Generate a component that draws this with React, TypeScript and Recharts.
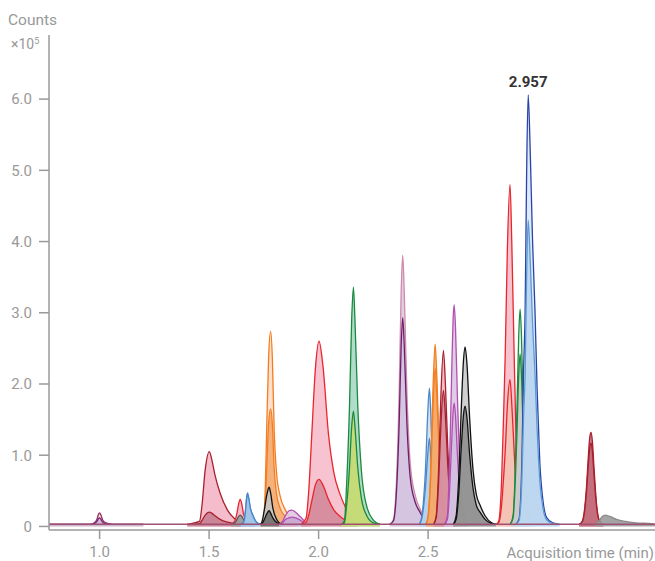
import { ComposedChart, Area, Line, XAxis, YAxis, ReferenceDot } from "recharts";

// [time (min), counts x10^5]; A = quantifier, B = qualifier
const baseline = [[0.77, 0.03], [3.536, 0.03]];

const rt100A = [[0.77, 0.03], [0.958, 0.03], [0.976, 0.05], [0.988, 0.1], [0.995, 0.17], [1.0, 0.19], [1.006, 0.16], [1.014, 0.09], [1.028, 0.05], [1.042, 0.04], [1.06, 0.03], [1.2, 0.03]];
const rt100B = [[0.77, 0.03], [0.958, 0.03], [0.976, 0.04], [0.988, 0.07], [0.995, 0.11], [1.0, 0.12], [1.006, 0.1], [1.014, 0.06], [1.028, 0.04], [1.042, 0.035], [1.06, 0.03], [1.2, 0.03]];

const rt150A = [[1.4, 0.03], [1.456, 0.07], [1.467, 0.28], [1.482, 0.79], [1.501, 1.05], [1.515, 0.9], [1.527, 0.72], [1.55, 0.47], [1.584, 0.23], [1.619, 0.1], [1.664, 0.03]];
const rt150B = [[1.4, 0.03], [1.456, 0.04], [1.467, 0.08], [1.482, 0.16], [1.501, 0.2], [1.515, 0.18], [1.527, 0.15], [1.55, 0.1], [1.584, 0.06], [1.619, 0.04], [1.664, 0.03]];

const rt164A = [[1.6, 0.03], [1.618, 0.08], [1.628, 0.2], [1.635, 0.32], [1.642, 0.38], [1.649, 0.32], [1.657, 0.18], [1.67, 0.08], [1.69, 0.04], [1.71, 0.03]];
const rt164B = [[1.6, 0.03], [1.618, 0.05], [1.628, 0.1], [1.635, 0.14], [1.642, 0.16], [1.649, 0.14], [1.657, 0.1], [1.67, 0.06], [1.69, 0.04], [1.71, 0.03]];

const rt168A = [[1.645, 0.03], [1.658, 0.06], [1.664, 0.16], [1.668, 0.3], [1.672, 0.43], [1.676, 0.47], [1.681, 0.4], [1.688, 0.26], [1.698, 0.17], [1.71, 0.09], [1.725, 0.04], [1.74, 0.03]];
const rt168B = [[1.645, 0.03], [1.658, 0.06], [1.664, 0.15], [1.668, 0.28], [1.672, 0.4], [1.677, 0.44], [1.682, 0.38], [1.689, 0.25], [1.699, 0.16], [1.711, 0.08], [1.725, 0.04], [1.74, 0.03]];

const rt178A = [[1.735, 0.03], [1.748, 0.09], [1.757, 0.6], [1.763, 1.37], [1.772, 2.4], [1.781, 2.74], [1.789, 2.35], [1.797, 1.37], [1.808, 0.75], [1.825, 0.42], [1.845, 0.25], [1.87, 0.12], [1.9, 0.04]];
const rt178B = [[1.735, 0.03], [1.748, 0.06], [1.757, 0.36], [1.763, 0.82], [1.772, 1.45], [1.781, 1.65], [1.789, 1.42], [1.797, 0.82], [1.808, 0.45], [1.825, 0.25], [1.845, 0.15], [1.87, 0.08], [1.9, 0.03]];

const rt177A = [[1.735, 0.03], [1.742, 0.07], [1.751, 0.21], [1.764, 0.45], [1.774, 0.55], [1.782, 0.45], [1.791, 0.26], [1.81, 0.09], [1.83, 0.03]];
const rt177B = [[1.735, 0.03], [1.742, 0.04], [1.751, 0.09], [1.764, 0.18], [1.774, 0.22], [1.782, 0.18], [1.791, 0.12], [1.81, 0.05], [1.83, 0.03]];

const rt188A = [[1.82, 0.03], [1.835, 0.07], [1.85, 0.16], [1.865, 0.22], [1.878, 0.23], [1.895, 0.2], [1.915, 0.14], [1.935, 0.08], [1.96, 0.03]];
const rt188B = [[1.82, 0.03], [1.835, 0.05], [1.85, 0.1], [1.865, 0.12], [1.878, 0.13], [1.895, 0.12], [1.915, 0.09], [1.935, 0.05], [1.96, 0.03]];

const rt200A = [[1.92, 0.03], [1.943, 0.12], [1.955, 0.5], [1.969, 1.3], [1.985, 2.2], [2.002, 2.6], [2.02, 2.25], [2.045, 1.3], [2.07, 0.75], [2.098, 0.45], [2.121, 0.28], [2.15, 0.12], [2.18, 0.04]];
const rt200B = [[1.92, 0.03], [1.943, 0.06], [1.955, 0.16], [1.969, 0.36], [1.985, 0.58], [2.002, 0.66], [2.02, 0.58], [2.045, 0.38], [2.07, 0.23], [2.098, 0.14], [2.121, 0.09], [2.15, 0.05], [2.18, 0.03]];

const rt216A = [[2.105, 0.03], [2.118, 0.08], [2.128, 0.6], [2.141, 1.68], [2.151, 2.9], [2.159, 3.36], [2.166, 2.9], [2.179, 1.68], [2.195, 0.8], [2.22, 0.28], [2.25, 0.09], [2.28, 0.03]];
const rt216B = [[2.105, 0.03], [2.118, 0.05], [2.128, 0.3], [2.141, 0.82], [2.151, 1.4], [2.159, 1.62], [2.166, 1.4], [2.179, 0.82], [2.195, 0.4], [2.22, 0.15], [2.25, 0.05], [2.28, 0.03]];

const rt238A = [[2.325, 0.03], [2.342, 0.1], [2.355, 0.6], [2.368, 1.9], [2.377, 3.3], [2.384, 3.81], [2.391, 3.3], [2.403, 1.9], [2.418, 0.9], [2.44, 0.45], [2.463, 0.25], [2.49, 0.08], [2.52, 0.03]];
const rt238B = [[2.325, 0.03], [2.342, 0.08], [2.355, 0.46], [2.368, 1.46], [2.377, 2.54], [2.384, 2.93], [2.391, 2.54], [2.403, 1.46], [2.418, 0.7], [2.44, 0.35], [2.463, 0.2], [2.49, 0.07], [2.52, 0.03]];

const rt251A = [[2.46, 0.03], [2.472, 0.15], [2.48, 0.4], [2.488, 0.8], [2.497, 1.5], [2.506, 1.94], [2.512, 1.6], [2.52, 0.9], [2.53, 0.4], [2.545, 0.12], [2.56, 0.03]];
const rt251B = [[2.46, 0.03], [2.472, 0.12], [2.48, 0.3], [2.488, 0.55], [2.497, 0.95], [2.506, 1.24], [2.512, 1.0], [2.52, 0.6], [2.53, 0.25], [2.545, 0.08], [2.56, 0.03]];

const rt253A = [[2.49, 0.03], [2.5, 0.15], [2.512, 0.8], [2.522, 1.9], [2.532, 2.56], [2.54, 2.1], [2.55, 1.2], [2.562, 0.5], [2.578, 0.15], [2.595, 0.03]];
const rt253B = [[2.49, 0.03], [2.5, 0.13], [2.512, 0.7], [2.522, 1.65], [2.532, 2.22], [2.54, 1.82], [2.55, 1.05], [2.562, 0.43], [2.578, 0.13], [2.595, 0.03]];

const rt257A = [[2.525, 0.03], [2.537, 0.15], [2.548, 0.8], [2.558, 1.8], [2.57, 2.47], [2.579, 2.0], [2.59, 1.1], [2.602, 0.45], [2.618, 0.12], [2.635, 0.03]];
const rt257B = [[2.525, 0.03], [2.537, 0.12], [2.548, 0.62], [2.558, 1.4], [2.57, 1.91], [2.579, 1.55], [2.59, 0.85], [2.602, 0.35], [2.618, 0.1], [2.635, 0.03]];

const rt262A = [[2.575, 0.03], [2.588, 0.15], [2.598, 0.9], [2.608, 2.2], [2.614, 2.9], [2.619, 3.11], [2.625, 2.8], [2.634, 1.8], [2.645, 0.8], [2.66, 0.25], [2.68, 0.03]];
const rt262B = [[2.575, 0.03], [2.588, 0.1], [2.598, 0.5], [2.608, 1.22], [2.614, 1.6], [2.619, 1.73], [2.625, 1.56], [2.634, 1.0], [2.645, 0.45], [2.66, 0.15], [2.68, 0.03]];

const rt267A = [[2.615, 0.03], [2.628, 0.15], [2.64, 0.7], [2.652, 1.7], [2.662, 2.35], [2.669, 2.52], [2.677, 2.3], [2.69, 1.5], [2.705, 0.8], [2.72, 0.45], [2.737, 0.3], [2.76, 0.15], [2.79, 0.05], [2.81, 0.03]];
const rt267B = [[2.615, 0.03], [2.628, 0.1], [2.64, 0.47], [2.652, 1.14], [2.662, 1.58], [2.669, 1.69], [2.677, 1.54], [2.69, 1.0], [2.705, 0.54], [2.72, 0.3], [2.737, 0.2], [2.76, 0.1], [2.79, 0.04], [2.81, 0.03]];

const rt287A = [[2.81, 0.03], [2.822, 0.07], [2.835, 0.6], [2.845, 1.6], [2.852, 2.4], [2.862, 3.9], [2.874, 4.8], [2.882, 4.0], [2.893, 2.4], [2.902, 1.2], [2.912, 0.45], [2.925, 0.12], [2.945, 0.03]];
const rt287B = [[2.81, 0.03], [2.822, 0.05], [2.835, 0.28], [2.845, 0.7], [2.852, 1.05], [2.862, 1.7], [2.874, 2.06], [2.882, 1.72], [2.893, 1.05], [2.902, 0.52], [2.912, 0.2], [2.925, 0.06], [2.945, 0.03]];

const rt292A = [[2.875, 0.03], [2.888, 0.15], [2.898, 0.8], [2.906, 1.7], [2.914, 2.7], [2.92, 3.05], [2.926, 2.7], [2.934, 1.7], [2.944, 0.8], [2.958, 0.25], [2.975, 0.03]];
const rt292B = [[2.875, 0.03], [2.888, 0.12], [2.898, 0.63], [2.906, 1.35], [2.914, 2.15], [2.92, 2.42], [2.926, 2.15], [2.934, 1.35], [2.944, 0.63], [2.958, 0.2], [2.975, 0.03]];

const rt296A = [[2.9, 0.03], [2.915, 0.1], [2.928, 0.9], [2.936, 2.2], [2.943, 3.03], [2.95, 5.0], [2.957, 6.06], [2.966, 5.3], [2.977, 4.0], [2.988, 3.03], [2.998, 1.9], [3.01, 0.9], [3.025, 0.35], [3.042, 0.12], [3.07, 0.05], [3.1, 0.03]];
const rt296B = [[2.9, 0.03], [2.915, 0.08], [2.928, 0.64], [2.936, 1.56], [2.943, 2.15], [2.95, 3.55], [2.957, 4.3], [2.966, 3.76], [2.977, 2.84], [2.988, 2.15], [2.998, 1.35], [3.01, 0.64], [3.025, 0.25], [3.042, 0.09], [3.07, 0.04], [3.1, 0.03]];

const rt324A = [[3.19, 0.03], [3.205, 0.08], [3.222, 0.5], [3.232, 1.0], [3.238, 1.25], [3.244, 1.32], [3.25, 1.2], [3.258, 0.8], [3.268, 0.35], [3.28, 0.1], [3.3, 0.03]];
const rt324B = [[3.19, 0.03], [3.205, 0.07], [3.222, 0.44], [3.232, 0.88], [3.238, 1.1], [3.244, 1.17], [3.25, 1.06], [3.258, 0.7], [3.268, 0.31], [3.28, 0.09], [3.3, 0.03]];

const rt331A = [[3.26, 0.03], [3.28, 0.08], [3.295, 0.14], [3.308, 0.16], [3.33, 0.14], [3.36, 0.1], [3.4, 0.07], [3.45, 0.05], [3.52, 0.04], [3.536, 0.03]];

const xTicks = [1.0, 1.5, 2.0, 2.5];
const yTicks = [0, 1, 2, 3, 4, 5, 6];
const apex = { t: 2.957, v: 6.06, label: "2.957" };

const traces = [
  { data: rt100A, stroke: "#8e2a6c", fill: "#fbeeb6" },
  { data: rt100B, stroke: "#7b2a72", fill: "#c9b3d9" },
  { data: rt150A, stroke: "#a8202c", fill: "#f4b5c5" },
  { data: rt150B, stroke: "#a8202c", fill: "#c88092" },
  { data: rt164A, stroke: "#e8262b", fill: "#f4b5c5" },
  { data: rt164B, stroke: "#5a5a5a", fill: "#9a9a9a" },
  { data: rt168A, stroke: "#4a88c9", fill: "#bcd5ee" },
  { data: rt168B, stroke: "#4a88c9", fill: "#9fc3e8" },
  { data: rt178A, stroke: "#f47d20", fill: "#fcdcc8" },
  { data: rt178B, stroke: "#f47d20", fill: "#f4ac72" },
  { data: rt177A, stroke: "#111111", fill: "#c4c4c4" },
  { data: rt177B, stroke: "#111111", fill: "#707070" },
  { data: rt188A, stroke: "#b24fb0", fill: "#e0c8e4" },
  { data: rt188B, stroke: "#b24fb0", fill: "#c8a6d0" },
  { data: rt200A, stroke: "#e8262b", fill: "#f6bccb" },
  { data: rt200B, stroke: "#e8262b", fill: "#d38a9a" },
  { data: rt216A, stroke: "#1a8a3e", fill: "#a8d8c4" },
  { data: rt216B, stroke: "#1a8a3e", fill: "#c6da6e" },
  { data: rt238A, stroke: "#cf8aa8", fill: "#dccbe2" },
  { data: rt238B, stroke: "#6c1f6e", fill: "#d5c3e0" },
  { data: rt251A, stroke: "#4a88c9", fill: "#cfe0f2" },
  { data: rt251B, stroke: "#4a88c9", fill: "#b3cfec" },
  { data: rt253A, stroke: "#f47d20", fill: "#f6b583" },
  { data: rt253B, stroke: "#f47d20", fill: "#f3a86a" },
  { data: rt257A, stroke: "#a8202c", fill: "#f4b5c5" },
  { data: rt257B, stroke: "#a8202c", fill: "#d48c9c" },
  { data: rt262A, stroke: "#b24fb0", fill: "#dcc7e3" },
  { data: rt262B, stroke: "#b24fb0", fill: "#d2bfdf" },
  { data: rt267A, stroke: "#111111", fill: "#cacaca" },
  { data: rt267B, stroke: "#111111", fill: "#8e8e8e" },
  { data: rt287A, stroke: "#e8262b", fill: "#f6bccb" },
  { data: rt287B, stroke: "#e8262b", fill: "#f4c3b2" },
  { data: rt292A, stroke: "#1a8a3e", fill: "#eef6ee" },
  { data: rt292B, stroke: "#1a8a3e", fill: "#c6c6c6" },
  { data: rt296A, stroke: "#2a44a6", fill: "#dce8f7" },
  { data: rt296B, stroke: "#5b9bd5", fill: "#b9d5ee" },
  { data: rt324A, stroke: "#a8202c", fill: "#c97584" },
  { data: rt324B, stroke: "#a8202c", fill: "#c46c7c" },
  { data: rt331A, stroke: "#8a8a8a", fill: "#9a9a9a" },
];

const toRows = (pts: number[][]) => pts.map(([t, v]) => ({ t, v }));

const axisColor = "#9a9a9a";
const tickStyle = { fill: "#999999", fontSize: 15, fontFamily: "Roboto, sans-serif" };
const textStyle: React.CSSProperties = {
  position: "absolute",
  color: "#999999",
  fontFamily: "Roboto, sans-serif",
  lineHeight: 1,
  whiteSpace: "nowrap",
};

export default function App() {
  return (
    <div style={{ position: "absolute", left: 0, top: 0, width: 655, height: 561, overflow: "hidden", background: "#fff" }}>
      <ComposedChart width={655} height={561} margin={{ top: 35, right: 0, bottom: 0, left: 0 }}>
        <XAxis
          dataKey="t"
          type="number"
          domain={[0.769, 3.536]}
          allowDataOverflow
          ticks={xTicks}
          tickFormatter={(v: number) => v.toFixed(1)}
          height={31}
          tickSize={9}
          tickMargin={7}
          stroke={axisColor}
          strokeWidth={1.5}
          tick={tickStyle}
        />
        <YAxis
          type="number"
          domain={[-0.05, 6.9]}
          allowDataOverflow
          ticks={yTicks}
          tickFormatter={(v: number) => (v === 0 ? "0" : v.toFixed(1))}
          width={49}
          tickSize={10}
          tickMargin={7}
          stroke={axisColor}
          strokeWidth={1.5}
          tick={tickStyle}
        />
        <Line
          data={toRows(baseline)}
          dataKey="v"
          stroke="#a05070"
          strokeWidth={1.5}
          dot={false}
          activeDot={false}
          isAnimationActive={false}
        />
        {traces.map((tr, i) => (
          <Area
            key={i}
            data={toRows(tr.data)}
            dataKey="v"
            type="monotone"
            stroke={tr.stroke}
            strokeWidth={1.3}
            fill={tr.fill}
            fillOpacity={0.9}
            dot={false}
            activeDot={false}
            isAnimationActive={false}
          />
        ))}
        <ReferenceDot
          x={apex.t}
          y={apex.v}
          r={0}
          label={{ value: apex.label, position: "top", offset: 8, fill: "#333", fontSize: 15, fontWeight: "bold", fontFamily: "Roboto, sans-serif" }}
        />
      </ComposedChart>
      <div style={{ ...textStyle, left: 8, top: 13, fontSize: 15.5 }}>Counts</div>
      <div style={{ ...textStyle, left: 11, top: 37, fontSize: 14 }}>
        ×10<span style={{ fontSize: 9, position: "relative", top: -5 }}>5</span>
      </div>
      <div style={{ ...textStyle, right: 1, top: 546, fontSize: 15, textAlign: "right" }}>Acquisition time (min)</div>
    </div>
  );
}
